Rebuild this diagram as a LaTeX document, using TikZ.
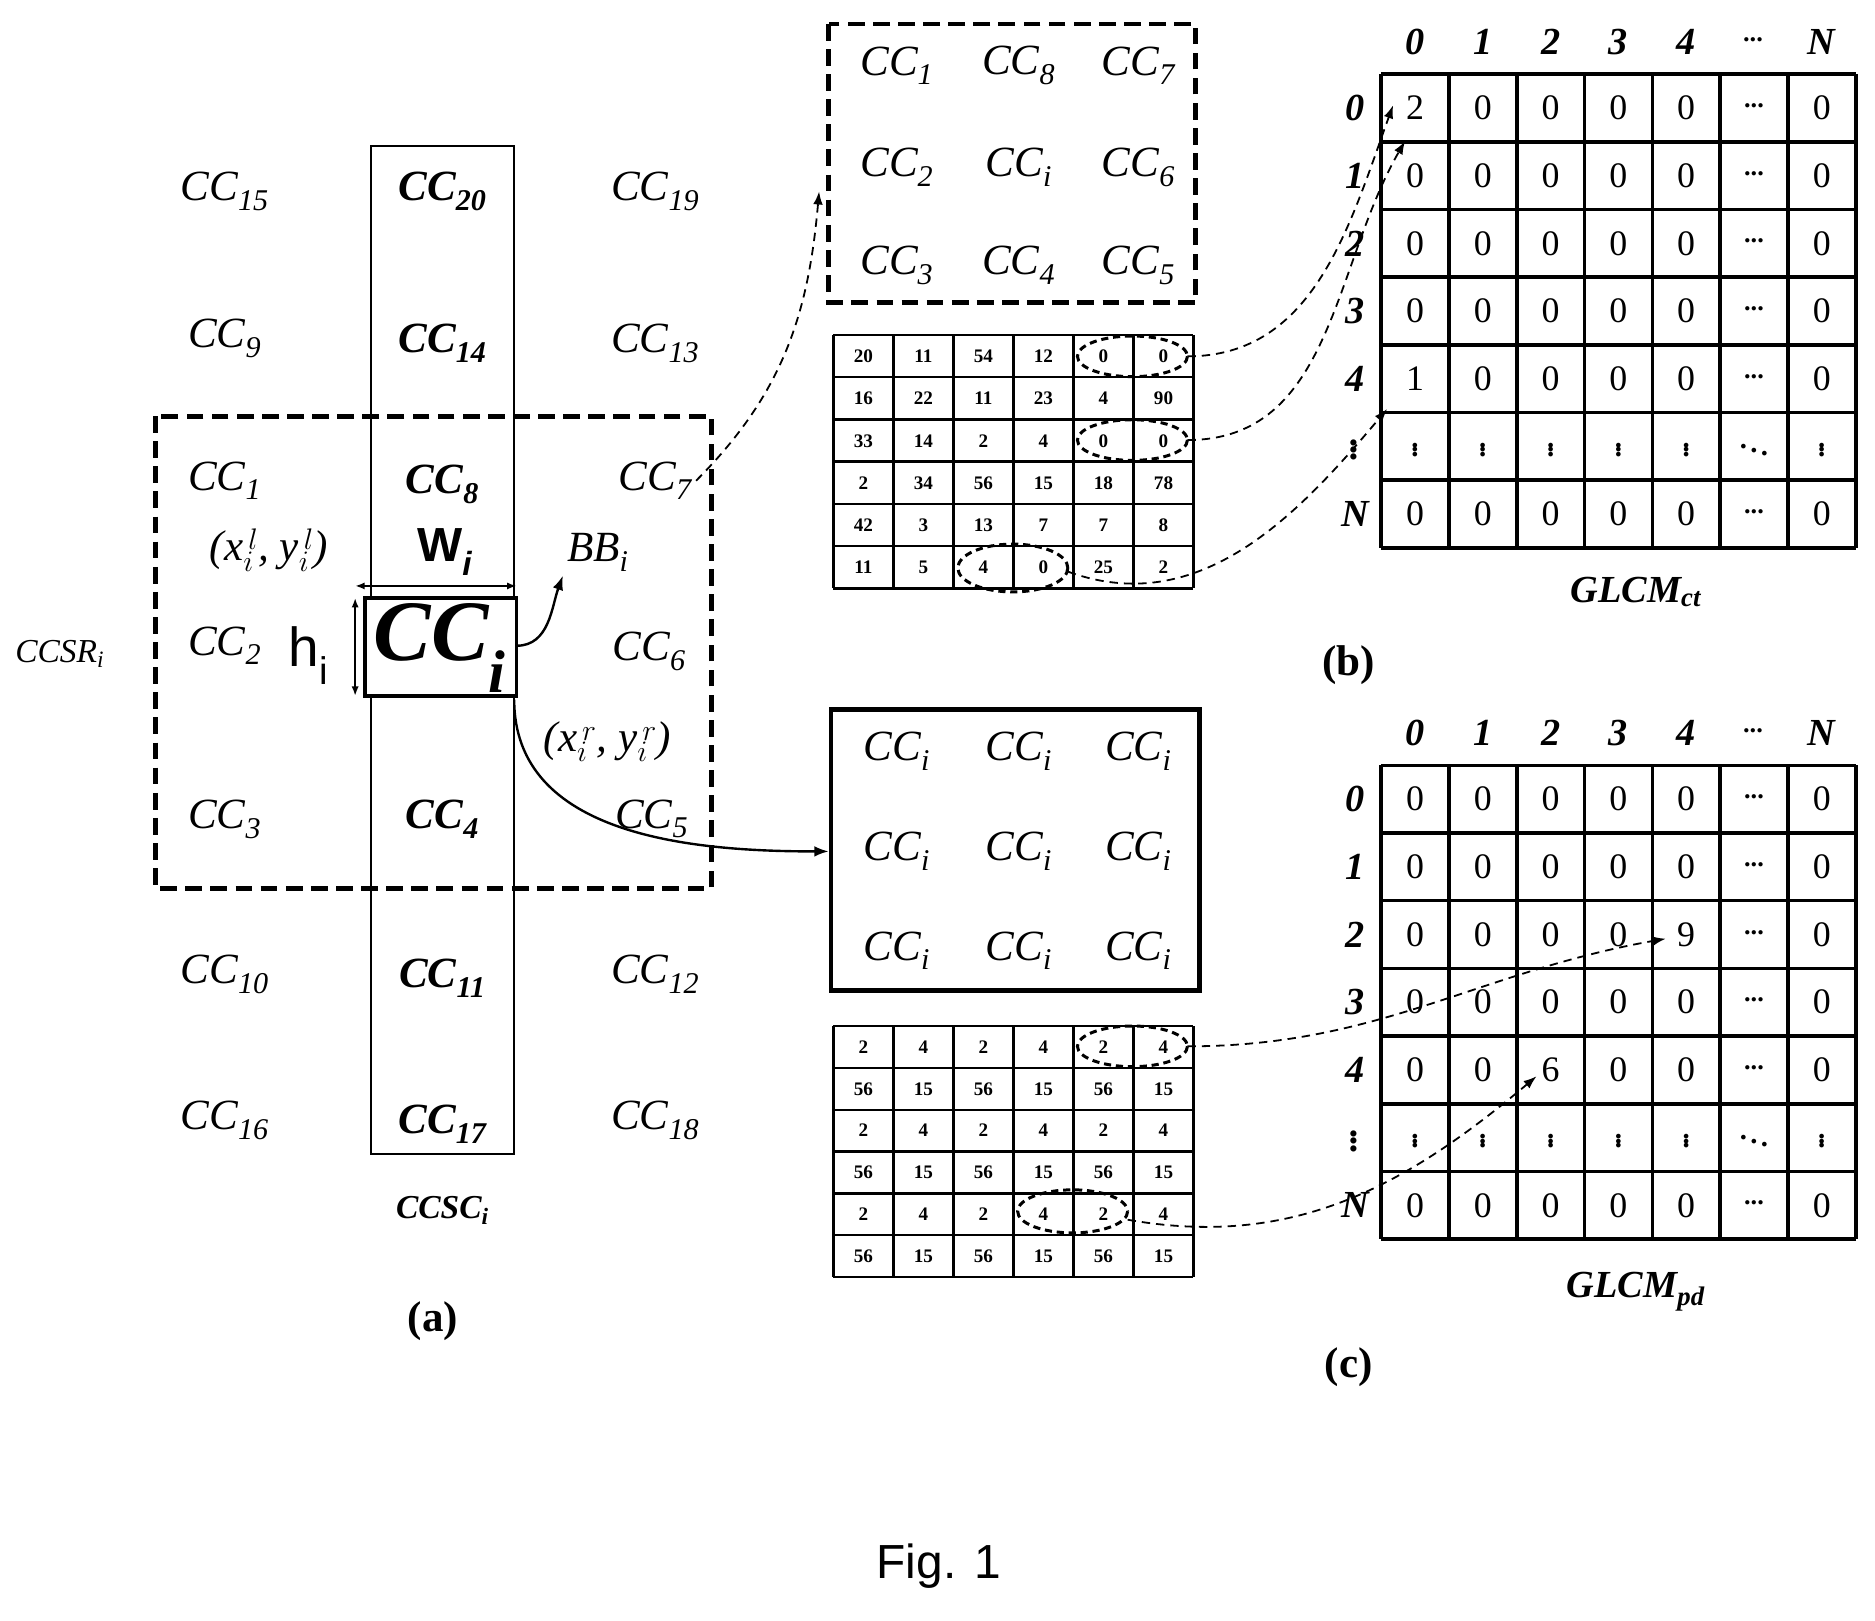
\documentclass[tikz,border=0pt]{standalone}
\usepackage{fontspec}
\setmainfont{Liberation Serif}
\setsansfont{Liberation Sans}
\usetikzlibrary{arrows.meta}
\newcommand\sbx[2]{#1\textsubscript{#2}}
\newcommand\hdts{\raisebox{4pt}{\bfseries\fontsize{22}{24}\selectfont...}}
\begin{document}
\begin{tikzpicture}[x=1pt,y=-1pt,
 cc/.style={font=\fontsize{36}{38}\selectfont\itshape},
 ccb/.style={font=\fontsize{36}{38}\selectfont\itshape\bfseries},
 tnum/.style={font=\fontsize{16}{17}\selectfont\bfseries},
 mnum/.style={font=\fontsize{30}{32}\selectfont},
 lab/.style={font=\fontsize{32}{34}\selectfont\itshape\bfseries},
 dbox/.style={line width=4pt,dash pattern=on 14pt off 7pt},
 darr/.style={line width=1.5pt,dash pattern=on 7pt off 5pt,-{Latex[length=11pt,width=8pt]}},
 dell/.style={line width=2.5pt,dash pattern=on 6pt off 4pt}]
\useasboundingbox (0,0) rectangle (1568,1355);
% (a)
\draw[line width=1.8pt] (310,122) rectangle (430,965);
\draw[dbox] (130,348) rectangle (595,743);
\foreach \t/\x/\y in {15/188/160,19/548/160,9/188/283,13/548/287,1/188/402,7/548/402,2/188/540,6/543/545,3/188/685,5/545/685,10/188/815,12/548/815,16/188/937,18/548/937}
  \node[cc] (a\t) at (\x,\y) {\sbx{CC}{\t}};
\foreach \t/\y in {20/160,14/287,8/405,4/685,11/818,17/940}
  \node[ccb] (a\t) at (370,\y) {\sbx{CC}{\t}};
\node[cc] (xl) at (225,460) {(\textit{x}$^{\,l}_{i}$, \textit{y}$^{\,l}_{i}$)};
\node[font=\fontsize{40}{42}\selectfont\sffamily\bfseries] (wi) at (372,462) {W\textsubscript{\itshape i}};
\node[cc] (bb) at (500,462) {\sbx{BB}{i}};
\node[font=\fontsize{28}{30}\selectfont\itshape] (ccsr) at (50,547) {\sbx{CCSR}{i}};
\node[font=\fontsize{46}{48}\selectfont\sffamily] (hi) at (258,548) {h\textsubscript{i}};
\draw[line width=3pt,fill=white] (305,500) rectangle (432,582);
\node[font=\fontsize{72}{74}\selectfont\itshape\bfseries] (cci) at (368,542) {\sbx{CC}{i}};
\coordinate (ccr) at (432,540);
\coordinate (ccc) at (430,585);
\node[cc] (xr) at (508,620) {(\textit{x}$^{\,r}_{i}$, \textit{y}$^{\,r}_{i}$)};
\node[font=\fontsize{28}{30}\selectfont\itshape\bfseries] (ccsc) at (370,1012) {\sbx{CCSC}{i}};
\node[font=\fontsize{36}{38}\selectfont\bfseries] (la) at (362,1105) {(a)};
\coordinate (wl) at (297,490); \coordinate (wr) at (432,490);
\draw[line width=2pt,{Latex[length=8pt]}-{Latex[length=8pt]}] (wl) -- (wr);
\coordinate (ht) at (297,500); \coordinate (hb) at (297,582);
\draw[line width=2pt,{Latex[length=8pt]}-{Latex[length=8pt]}] (ht) -- (hb);
\draw[line width=2pt,-{Latex[length=12pt,width=9pt]}] (ccr) to[out=0,in=-110] (bb.south west);
% top dashed box
\draw[dbox] (693,20) rectangle (1000,253);
\node[cc] (t1) at (750,55) {\sbx{CC}{1}};\node[cc] (t8) at (852,55) {\sbx{CC}{8}};\node[cc] (t7) at (952,55) {\sbx{CC}{7}};
\node[cc] (t2) at (750,140) {\sbx{CC}{2}};\node[cc] (ti) at (852,140) {\sbx{CC}{i}};\node[cc] (t6) at (952,140) {\sbx{CC}{6}};
\node[cc] (t3) at (750,222) {\sbx{CC}{3}};\node[cc] (t4) at (852,222) {\sbx{CC}{4}};\node[cc] (t5) at (952,222) {\sbx{CC}{5}};
\coordinate (tbl) at (685,160);
\draw[darr] (a7.east) to[out=45,in=-95] (tbl);
% solid box
\draw[line width=4pt] (695,593) rectangle (1003,828);
\foreach \r/\y in {1/628,2/712,3/795}
 \foreach \c/\x in {1/750,2/852,3/952}
  \node[cc] (s\r\c) at (\x,\y) {\sbx{CC}{i}};
\coordinate (sbl) at (693,712);
\draw[line width=2pt,-{Latex[length=12pt,width=9pt]}] (ccc) to[out=-90,in=180] (sbl);
% tables
\foreach \row [count=\r from 0] in {{20,11,54,12,0,0},{16,22,11,23,4,90},{33,14,2,4,0,0},{2,34,56,15,18,78},{42,3,13,7,7,8},{11,5,4,0,25,2}}
 \foreach \v [count=\c from 0] in \row
  \node[tnum] (p\r\c) at (722+50.2*\c,298+35.3*\r) {\v};
\foreach \i in {0,...,6} {\draw[line width=2pt] (697+50.17*\i,280) -- (697+50.17*\i,492); \draw[line width=2pt] (697,280+35.33*\i) -- (998,280+35.33*\i);}
\foreach \row [count=\r from 0] in {{2,4,2,4,2,4},{56,15,56,15,56,15},{2,4,2,4,2,4},{56,15,56,15,56,15},{2,4,2,4,2,4},{56,15,56,15,56,15}}
 \foreach \v [count=\c from 0] in \row
  \node[tnum] (q\r\c) at (722+50.2*\c,875.5+35*\r) {\v};
\foreach \i in {0,...,6} {\draw[line width=2pt] (697+50.17*\i,858) -- (697+50.17*\i,1068); \draw[line width=2pt] (697,858+35*\i) -- (998,858+35*\i);}
% ellipses
\draw[dell] (947,298) ellipse (46 and 17);
\draw[dell] (947,368) ellipse (46 and 17);
\draw[dell] (847,475) ellipse (46 and 20);
\draw[dell] (947,875) ellipse (46 and 17);
\draw[dell] (897,1013) ellipse (46 and 18);
% matrices
\foreach \m/\y/\lname/\gl/\gy/\ly in {b/62/ct/b/495/556,c/640/pd/c/1080/1143} {
 \foreach \i in {0,...,7} {\draw[line width=3pt] (1155+56.7*\i,\y) -- (1155+56.7*\i,\y+396); \draw[line width=3pt] (1155,\y+56.6*\i) -- (1552,\y+56.6*\i);}
 \foreach \h [count=\k from 0] in {0,1,2,3,4,\hdts,N} {
   \node[lab] (\m h\k) at (1183.3+56.7*\k,\y-27) {\h};}
 \foreach \h [count=\k from 0] in {0,1,2,3,4,\vdots,N} {
   \node[lab] (\m r\k) at (1133,\y+28.3+56.6*\k) {\h};}
 \foreach \r in {0,1,2,3,4,6} {
  \foreach \c in {0,...,4} \node[mnum] (\m\r\c) at (1183.3+56.7*\c,\y+28.3+56.6*\r) {0};
  \node[mnum] (\m\r5) at (1183.3+56.7*5,\y+28.3+56.6*\r) {\hdts};
  \node[mnum] (\m\r6) at (1183.3+56.7*6,\y+28.3+56.6*\r) {0};}
 \foreach \c in {0,1,2,3,4,6} \node[font=\fontsize{24}{26}\selectfont\bfseries] (\m5\c) at (1183.3+56.7*\c,\y+28.3+56.6*5) {\vdots};
 \node[font=\fontsize{24}{26}\selectfont\bfseries] (\m55) at (1183.3+56.7*5,\y+28.3+56.6*5) {$\ddots$};
 \node[lab] (G\m) at (1368,\gy) {\sbx{GLCM}{\lname}};
 \node[font=\fontsize{36}{38}\selectfont\bfseries] (L\m) at (1128,\ly) {(\gl)};
}
\node[mnum,fill=white,inner sep=1pt] at (b00) {2};
\node[mnum,fill=white,inner sep=1pt] at (b40) {1};
\node[mnum,fill=white,inner sep=1pt] at (c24) {9};
\node[mnum,fill=white,inner sep=1pt] at (c42) {6};
\coordinate (b00a) at (1165,88); \coordinate (b00b) at (1175,118); \coordinate (b40a) at (1160,342);
\draw[darr] (993,298) to[out=0,in=-110] (b00a);
\draw[darr] (993,368) to[out=0,in=-120] (b00b);
\draw[darr] (893,478) to[out=-20,in=-130] (b40a);
\coordinate (c24a) at (1393,785); \coordinate (c42a) at (1285,900);
\draw[darr] (993,875) to[out=0,in=190] (c24a);
\draw[darr] (943,1020) to[out=-10,in=-140] (c42a);
\node[font=\fontsize{40}{42}\selectfont\sffamily] (fig) at (785,1310) {Fig. 1};
\end{tikzpicture}
\end{document}
